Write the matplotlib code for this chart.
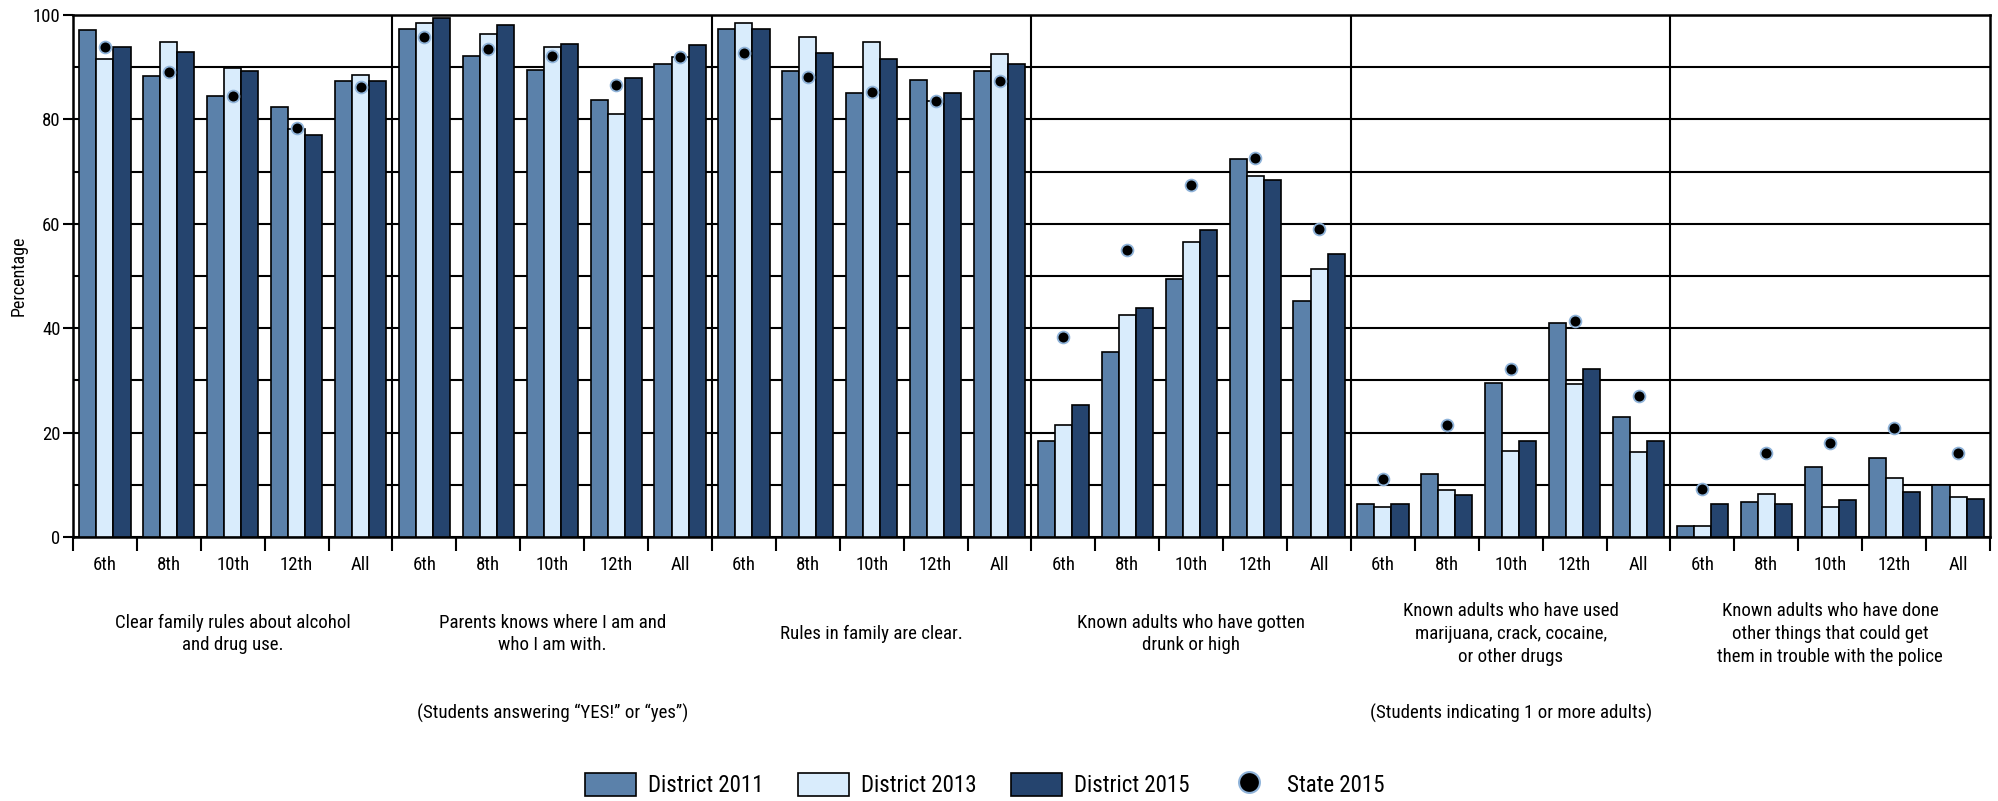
import matplotlib
matplotlib.use("Agg")
import matplotlib.pyplot as plt
import numpy as np
from matplotlib import font_manager
from matplotlib.transforms import blended_transform_factory
from matplotlib.lines import Line2D
from matplotlib.patches import Patch

names = {f.name for f in font_manager.fontManager.ttflist}
narrow = None
for cand in ["Liberation Sans Narrow", "Roboto Condensed", "Open Sans Condensed",
             "Noto Sans Condensed", "DejaVu Sans Condensed"]:
    if cand in names:
        narrow = cand
        break
if narrow:
    plt.rcParams['font.family'] = [narrow, 'DejaVu Sans']
    scale = 1.0
else:
    plt.rcParams['font.family'] = ['DejaVu Sans']
    scale = 0.9

grades = ["6th", "8th", "10th", "12th", "All"]
panels = [
    "Clear family rules about alcohol\nand drug use.",
    "Parents knows where I am and\nwho I am with.",
    "Rules in family are clear.",
    "Known adults who have gotten\ndrunk or high",
    "Known adults who have used\nmarijuana, crack, cocaine,\nor other drugs",
    "Known adults who have done\nother things that could get\nthem in trouble with the police",
]
subtitles = {1: "(Students answering \u201cYES!\u201d or \u201cyes\u201d)",
             4: "(Students indicating 1 or more adults)"}

district_2011 = [97.1, 88.3, 84.4, 82.4, 87.4,
                 97.4, 92.1, 89.5, 83.7, 90.6,
                 97.4, 89.2, 85.0, 87.6, 89.2,
                 18.4, 35.5, 49.4, 72.5, 45.2,
                 6.4, 12.0, 29.5, 41.0, 23.0,
                 2.2, 6.8, 13.5, 15.2, 10.0]
district_2013 = [91.5, 94.8, 89.9, 78.1, 88.6,
                 98.4, 96.4, 93.8, 81.0, 91.9,
                 98.4, 95.8, 94.8, 83.5, 92.5,
                 21.4, 42.6, 56.5, 69.2, 51.4,
                 5.7, 9.0, 16.5, 29.4, 16.2,
                 2.2, 8.3, 5.7, 11.3, 7.7]
district_2015 = [93.8, 92.9, 89.3, 77.1, 87.4,
                 99.4, 98.1, 94.5, 87.9, 94.2,
                 97.4, 92.8, 91.6, 85.0, 90.6,
                 25.3, 43.9, 58.9, 68.3, 54.3,
                 6.4, 8.0, 18.4, 32.2, 18.4,
                 6.4, 6.4, 7.0, 8.7, 7.3]
state_2015 = [93.9, 89.1, 84.4, 78.4, 86.3,
              95.7, 93.4, 92.1, 86.6, 91.9,
              92.8, 88.1, 85.3, 83.6, 87.3,
              38.4, 54.9, 67.5, 72.7, 59.0,
              11.1, 21.4, 32.2, 41.4, 27.0,
              9.2, 16.0, 18.0, 20.8, 16.1]

c2011 = "#5b81aa"
c2013 = "#d9ecfc"
c2015 = "#25446e"

W, H = 1999, 801
fig = plt.figure(figsize=(W / 100, H / 100), dpi=100)
ax = fig.add_axes([73 / W, 1 - 537 / H, 1917 / W, 522 / H])

n = len(district_2011)
x = np.arange(n)
bw = 0.8 / 3
kw = dict(edgecolor="black", linewidth=1.2, zorder=3)
ax.bar(x - bw, district_2011, bw, color=c2011, **kw)
ax.bar(x, district_2013, bw, color=c2013, **kw)
ax.bar(x + bw, district_2015, bw, color=c2015, **kw)
ax.plot(x, state_2015, linestyle="none", marker="o", markersize=8.5,
        markerfacecolor="black", markeredgecolor="#8fb3d9",
        markeredgewidth=1.3, zorder=4)

ax.set_xlim(-0.5, n - 0.5)
ax.set_ylim(0, 100)

tick_fs = 13.5 * scale
text_fs = 13.6 * scale

# y axis
ax.set_yticks(np.arange(0, 101, 20))
ax.set_yticks(np.arange(10, 100, 20), minor=True)
ax.yaxis.grid(True, which="both", color="black", linewidth=1.5, zorder=0)
ax.set_axisbelow(True)
ax.tick_params(axis="y", which="major", length=7, width=1.5, pad=2,
               labelsize=tick_fs)
ax.tick_params(axis="y", which="minor", length=0)
ax.set_ylabel("Percentage", fontsize=13 * scale)
ax.yaxis.set_label_coords(-(73 - 28) / 1917, 0.5)

# x axis: boundaries as ticks, labels at centers
ax.set_xticks(np.arange(-0.5, n, 1.0))
ax.set_xticklabels([])
ax.set_xticks(x, minor=True)
ax.set_xticklabels(grades * len(panels), minor=True)
ax.tick_params(axis="x", which="major", length=10, width=1.5, direction="out")
ax.tick_params(axis="x", which="minor", length=0, pad=14, labelsize=tick_fs)

for s in ax.spines.values():
    s.set_linewidth(1.8)
    s.set_color("black")

for k in range(1, len(panels)):
    ax.axvline(k * 5 - 0.5, color="black", linewidth=1.5, zorder=2)

tr = blended_transform_factory(ax.transData, fig.transFigure)
for k, label in enumerate(panels):
    cx = k * 5 + 2
    ax.text(cx, 1 - 634 / H, label, transform=tr, ha="center", va="center",
            multialignment="center", fontsize=text_fs, linespacing=1.35)
    if k in subtitles:
        ax.text(cx, 1 - 713 / H, subtitles[k], transform=tr, ha="center",
                va="center", fontsize=text_fs)

handles = [
    Patch(facecolor=c2011, edgecolor="black", linewidth=1.2, label="District 2011"),
    Patch(facecolor=c2013, edgecolor="black", linewidth=1.2, label="District 2013"),
    Patch(facecolor=c2015, edgecolor="black", linewidth=1.2, label="District 2015"),
    Line2D([], [], linestyle="none", marker="o", markersize=15,
           markerfacecolor="black", markeredgecolor="#8fb3d9",
           markeredgewidth=1.5, label="State 2015"),
]
fig.legend(handles=handles, loc="center", bbox_to_anchor=(985 / W, 1 - 785 / H),
           ncol=4, frameon=False, fontsize=16.5 * scale, handlelength=2.2,
           handleheight=1.15, handletextpad=0.55, columnspacing=1.5)

fig.savefig("out.png", dpi=100)
